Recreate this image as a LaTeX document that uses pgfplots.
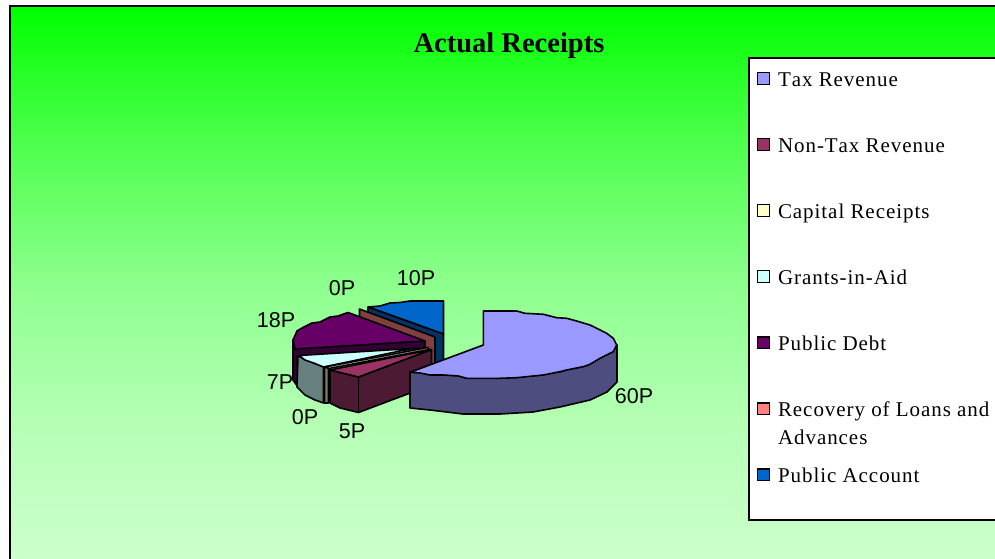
\documentclass[border=0pt]{standalone}
\usepackage{fontspec}
\usepackage{pgfplots}
\pgfplotsset{compat=1.18}
\setmainfont{Liberation Serif}
\newfontfamily\arial{Liberation Sans}
\newfontfamily\legfont[LetterSpace=4.5,Kerning=Off]{Liberation Serif}
\definecolor{taxT}{HTML}{9999FF}
\definecolor{taxS}{HTML}{4D4D80}
\definecolor{nontaxT}{HTML}{993366}
\definecolor{nontaxS}{HTML}{4D1A33}
\definecolor{capT}{HTML}{FFFFCC}
\definecolor{capS}{HTML}{808066}
\definecolor{grantT}{HTML}{CCFFFF}
\definecolor{grantS}{HTML}{668080}
\definecolor{debtT}{HTML}{660066}
\definecolor{debtS}{HTML}{330033}
\definecolor{loanT}{HTML}{FF8080}
\definecolor{loanS}{HTML}{804040}
\definecolor{pubT}{HTML}{0066CC}
\definecolor{pubS}{HTML}{003366}
\pgfdeclareverticalshading{bgfade}{100bp}{
  rgb(0bp)=(.8,1,.8); rgb(25bp)=(.8,1,.8); rgb(37.6bp)=(.706,1,.706);
  rgb(50.2bp)=(.549,1,.549); rgb(62.9bp)=(.298,1,.298);
  rgb(75bp)=(0,1,0); rgb(100bp)=(0,1,0)}
\pgfplotsset{
  face/.style={forget plot, draw=black, line width=1.6pt, line join=round, fill=#1},
  swatch/.style={legend image code/.code={
    \draw[draw=black, line width=1.3pt, fill=#1] (0pt,-2.5pt) rectangle (11.5pt,9pt);}},
}
\newcommand{\lab}[3]{\node[font=\arial\fontsize{21.5}{24}\selectfont] at (axis cs:#1,#2) {#3};}
\begin{document}
\begin{tikzpicture}
\clip (0,0) rectangle (995pt,559pt);
\begin{axis}[
  at={(0,0)}, anchor=south west,
  scale only axis, width=995pt, height=559pt,
  xmin=0, xmax=995, ymin=0, ymax=559,
  y dir=reverse,
  hide axis,
  legend cell align=left,
  legend style={
    at={(axis cs:749,58)}, anchor=north west,
    draw=none, fill=none,
    inner ysep=14pt, inner xsep=8pt, outer sep=0pt,
    font=\legfont\fontsize{21}{28}\selectfont,
    row sep=46.9pt,
    nodes={inner sep=0pt, text height=14pt, text depth=5pt},
    /tikz/column 1/.style={column sep=8.2pt},
  },
]
% background
\addplot[forget plot, draw=none, shade, shading=bgfade]
  coordinates {(10,6) (995,6) (995,559) (10,559)} --cycle;
\addplot[forget plot, draw=black, line width=2pt]
  coordinates {(10,575) (10,6) (1010,6)};
% legend box
\addplot[forget plot, fill=white, draw=black, line width=1.6pt]
  coordinates {(749,58) (1010,58) (1010,520) (749,520)} --cycle;

% public account
\addplot[face=pubS] coordinates {(368,307) (443.5,334) (443.5,372) (368,313)} --cycle;
\addplot[face=pubT] coordinates {(368.5,307) (380,306) (390,303) (400,302.5) (410,301) (443.5,301) (443.5,334)} --cycle;
% recovery of loans
\addplot[face=loanS] coordinates {(359.5,309) (435,337) (435,374) (359.5,318)} --cycle;
% public debt
\addplot[face=debtS] coordinates {(293,340) (425,341) (425,348) (297,356) (298,387) (293,380)} --cycle;
\addplot[face=debtT] coordinates {(425,341) (348,312.5) (338,316) (330,317) (320,322) (312,323) (302,328) (297,331) (293,340) (295,349)} --cycle;
% grants-in-aid
\addplot[face=grantS] coordinates {(298,356) (315,363.5) (323.5,367) (323.5,403) (315,400) (305,395) (297,387)} --cycle;
\addplot[face=grantT] coordinates {(299,355.5) (412,348.5) (323.5,367) (315,363.5) (305,360)} --cycle;
% capital receipts
\addplot[face=capS] coordinates {(324.5,367) (328.5,368) (328.5,403) (324.5,403)} --cycle;
\addplot[face=capT] coordinates {(325,367) (428,347.5) (429,349.5) (329,368.5)} --cycle;
% non-tax revenue
\addplot[face=nontaxS] coordinates {(330,370) (340,372.5) (358.5,377) (431.5,349.5) (431.5,385) (358.5,412.5) (340,408) (330,403)} --cycle;
\addplot[face=nontaxT] coordinates {(431.5,349.5) (330,370) (340,372.5) (358.5,377)} --cycle;
\addplot[forget plot, draw=black, line width=1.6pt] coordinates {(358.5,377) (358.5,412.5)};
% tax revenue
\addplot[face=taxS] coordinates {(410,372) (410,408) (430,410) (463,414) (500,414) (533,412) (560,407) (590,400) (607,392) (617,382) (617,345) (560,372)} --cycle;
\addplot[face=taxT] coordinates {(483.3,345) (483.3,311) (516.7,311) (525,313.3) (543.3,314.3) (556.7,317.7) (566.7,318.3) (576.7,321) (590,325) (596.7,328.3) (606.7,333.3) (613.3,338.3) (616.7,345) (613.3,351.7) (600,358.3) (590,364.3) (583.3,366.7) (566.7,370) (560,371.7) (543.3,375) (533.3,376) (516.7,377.7) (500,378.3) (466.7,378.3) (458.3,376) (443.3,375) (430,375) (420,373) (410,372.3)} --cycle;

% legend
\addlegendimage{swatch=taxT}\addlegendentry{Tax Revenue}
\addlegendimage{swatch=nontaxT}\addlegendentry{Non-Tax Revenue}
\addlegendimage{swatch=capT}\addlegendentry{Capital Receipts}
\addlegendimage{swatch=grantT}\addlegendentry{Grants-in-Aid}
\addlegendimage{swatch=debtT}\addlegendentry{Public Debt}
\addlegendimage{swatch=loanT}\addlegendentry{\parbox[t]{260pt}{Recovery of Loans and\\Advances}}
\addlegendimage{swatch=pubT}\addlegendentry{Public Account}

% title and data labels
\node[font=\fontsize{28.5}{32}\selectfont\bfseries] at (axis cs:509,46) {Actual Receipts};
\lab{634}{396}{60P}
\lab{352}{431}{5P}
\lab{305}{417}{0P}
\lab{280}{382}{7P}
\lab{276}{320}{18P}
\lab{342}{288}{0P}
\lab{416}{278}{10P}
\end{axis}
\end{tikzpicture}
\end{document}
